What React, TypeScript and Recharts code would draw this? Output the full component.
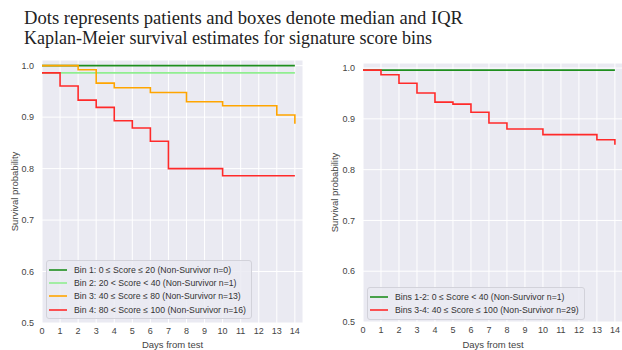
import React from 'react'
import { LineChart, Line, XAxis, YAxis, CartesianGrid, Legend } from 'recharts'

// Kaplan-Meier step points (day of change, survival probability after that day)
const BIN1_DAYS = [0, 14]
const BIN1_SURV = [1.0, 1.0]
const BIN2_DAYS = [0, 14]
const BIN2_SURV = [0.986, 0.986]
const BIN3_DAYS = [0, 2, 3, 4, 6, 8, 10, 13, 14]
const BIN3_SURV = [1.0, 0.992, 0.966, 0.957, 0.948, 0.93, 0.922, 0.904, 0.887]
const BIN4_DAYS = [0, 1, 2, 3, 4, 5, 6, 7, 10, 14]
const BIN4_SURV = [0.986, 0.9605, 0.933, 0.919, 0.893, 0.879, 0.853, 0.8, 0.786, 0.786]

const LOW_DAYS = [0, 14]
const LOW_SURV = [0.996, 0.996]
const HIGH_DAYS = [0, 1, 2, 3, 4, 5, 6, 7, 8, 10, 13, 14]
const HIGH_SURV = [0.996, 0.987, 0.97, 0.951, 0.933, 0.929, 0.913, 0.892, 0.88, 0.869, 0.859, 0.849]

const DAY_TICKS = [0, 1, 2, 3, 4, 5, 6, 7, 8, 9, 10, 11, 12, 13, 14]
const PROB_TICKS = [0.5, 0.6, 0.7, 0.8, 0.9, 1.0]

const TITLE_1 = 'Dots represents patients and boxes denote median and IQR'
const TITLE_2 = 'Kaplan-Meier survival estimates for signature score bins'

const zip = (days: number[], surv: number[]) => days.map((d, i) => ({ day: d, p: surv[i] }))

const leftSeries = [
  { name: 'Bin 1: 0 \u2264 Score \u2264 20 (Non-Survivor n=0)', color: '#1f8f1f', data: zip(BIN1_DAYS, BIN1_SURV) },
  { name: 'Bin 2: 20 < Score < 40 (Non-Survivor n=1)', color: '#90ee90', data: zip(BIN2_DAYS, BIN2_SURV) },
  { name: 'Bin 3: 40 \u2264 Score \u2264 80 (Non-Survivor n=13)', color: '#ffa500', data: zip(BIN3_DAYS, BIN3_SURV) },
  { name: 'Bin 4: 80 < Score \u2264 100 (Non-Survivor n=16)', color: '#ff2a2a', data: zip(BIN4_DAYS, BIN4_SURV) },
]

const rightSeries = [
  { name: 'Bins 1-2: 0 \u2264 Score < 40 (Non-Survivor n=1)', color: '#1f8f1f', data: zip(LOW_DAYS, LOW_SURV) },
  { name: 'Bins 3-4: 40 \u2264 Score \u2264 100 (Non-Survivor n=29)', color: '#ff2a2a', data: zip(HIGH_DAYS, HIGH_SURV) },
]

const TEXT = '#444'

function LegendBox({ payload }: any) {
  return (
    <div
      style={{
        border: '1px solid #d2d2da',
        borderRadius: 3,
        background: 'rgba(234,234,242,0.85)',
        padding: '2px 5px 2px 2px',
        fontSize: 8.7,
        color: '#333',
        whiteSpace: 'nowrap',
      }}
    >
      {(payload || []).map((entry: any) => (
        <div key={entry.value} style={{ display: 'flex', alignItems: 'center', height: 13.3 }}>
          <svg width={18} height={4} style={{ marginRight: 7 }}>
            <line x1={0} y1={2} x2={18} y2={2} stroke={entry.color} strokeWidth={1.6} />
          </svg>
          <span>{entry.value}</span>
        </div>
      ))}
    </div>
  )
}

function KMChart({ series, width, margin, yWidth, xHeight, yTop, legendPos, yLabelOffset }: any) {
  return (
    <LineChart width={width} height={350} margin={margin}>
      <CartesianGrid fill="#eaeaf2" stroke="#ffffff" strokeWidth={1} />
      <XAxis
        dataKey="day"
        type="number"
        domain={[0, 14.45]}
        ticks={DAY_TICKS}
        interval={0}
        allowDataOverflow
        height={xHeight}
        axisLine={false}
        tickLine={false}
        tickSize={0}
        tickMargin={5}
        tick={{ fontSize: 9, fill: TEXT }}
        label={{ value: 'Days from test', position: 'insideBottom', offset: 2, fontSize: 9.5, fill: TEXT }}
      />
      <YAxis
        type="number"
        domain={[0.5, yTop]}
        ticks={PROB_TICKS}
        allowDataOverflow
        width={yWidth}
        axisLine={false}
        tickLine={false}
        tickSize={0}
        tickMargin={8}
        tick={{ fontSize: 9, fill: TEXT }}
        tickFormatter={(v: number) => v.toFixed(1)}
        label={{
          value: 'Survival probability',
          angle: -90,
          position: 'insideLeft',
          offset: yLabelOffset,
          fontSize: 9.5,
          fill: TEXT,
          style: { textAnchor: 'middle' },
        }}
      />
      {series.map((s: any) => (
        <Line
          key={s.name}
          data={s.data}
          dataKey="p"
          name={s.name}
          type="stepAfter"
          stroke={s.color}
          strokeWidth={1.6}
          dot={false}
          activeDot={false}
          isAnimationActive={false}
        />
      ))}
      <Legend
        layout="horizontal"
        verticalAlign="middle"
        align="center"
        content={<LegendBox />}
        wrapperStyle={{ left: legendPos.left, top: legendPos.top, width: 'auto', height: 'auto' }}
      />
    </LineChart>
  )
}

export default function App() {
  return (
    <div
      style={{
        position: 'absolute',
        left: 0,
        top: 0,
        width: 622,
        height: 350,
        overflow: 'hidden',
        background: '#fff',
        fontFamily: '"Liberation Sans", Arial, sans-serif',
      }}
    >
      <svg width={622} height={50} style={{ position: 'absolute', left: 0, top: 0 }}>
        <g fontFamily='"Liberation Serif", "Times New Roman", serif' fontSize={18.5} fill="#222">
          <text x={24} y={24} textLength={439} lengthAdjust="spacingAndGlyphs">
            {TITLE_1}
          </text>
          <text x={24} y={43.5} textLength={408} lengthAdjust="spacingAndGlyphs">
            {TITLE_2}
          </text>
        </g>
      </svg>
      <div style={{ position: 'absolute', left: 0, top: 0 }}>
        <KMChart
          series={leftSeries}
          width={310}
          margin={{ top: 60, right: 7, bottom: 0, left: 0 }}
          yWidth={42}
          xHeight={27}
          yTop={1.011}
          legendPos={{ left: 46, top: 260 }}
          yLabelOffset={15}
        />
      </div>
      <div style={{ position: 'absolute', left: 310, top: 0 }}>
        <KMChart
          series={rightSeries}
          width={314}
          margin={{ top: 63, right: 1, bottom: 0, left: 0 }}
          yWidth={53}
          xHeight={28}
          yTop={1.01}
          legendPos={{ left: 57, top: 287 }}
          yLabelOffset={25}
        />
      </div>
    </div>
  )
}
